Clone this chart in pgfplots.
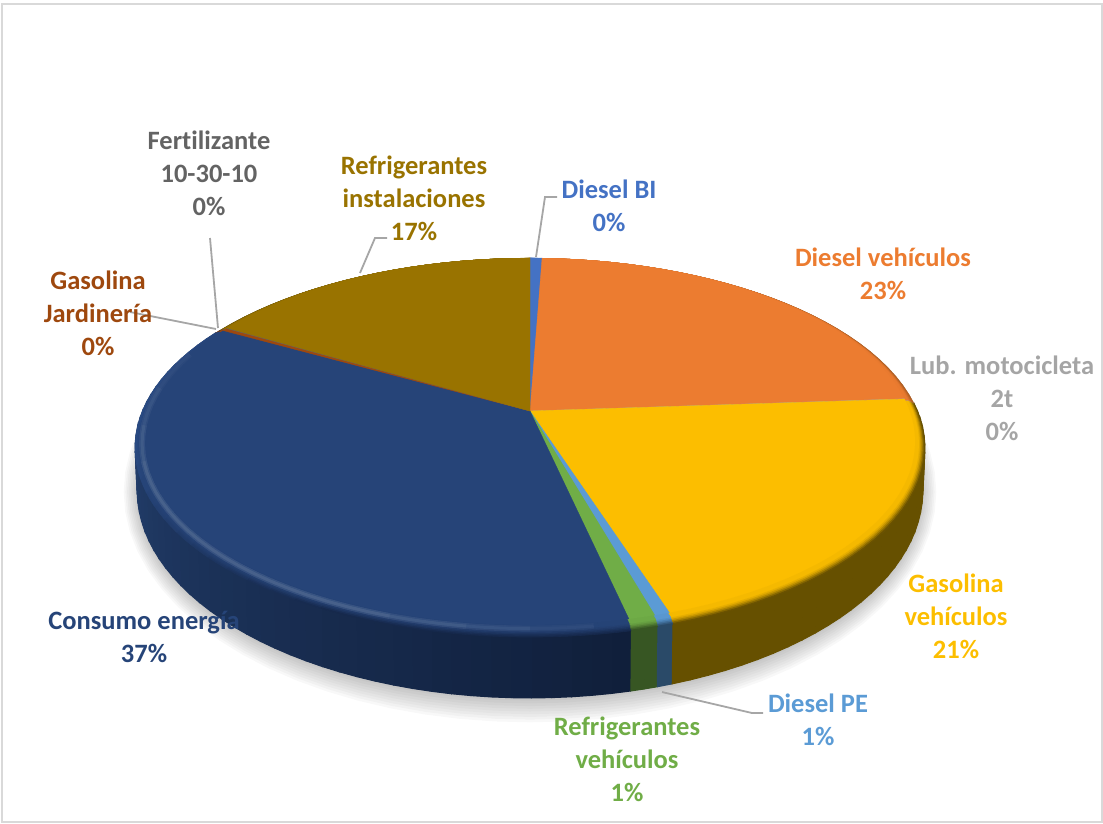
\documentclass[border=0pt]{standalone}
\usepackage{pgfplots}
\pgfplotsset{compat=1.18}
\usepackage{fontspec}
\setmainfont[Ligatures=NoCommon]{Carlito}

% series colours: b = top face, r = bevel edge, s/S = side wall (front / left end)
\definecolor{b1}{HTML}{4472C4}\definecolor{r1}{HTML}{2F5597}
\definecolor{b2}{HTML}{EC7C30}\definecolor{r2}{HTML}{A85A20}
\definecolor{b3}{HTML}{A5A5A5}\definecolor{r3}{HTML}{6E6E6E}
\definecolor{b4}{HTML}{FCBE00}\definecolor{r4}{HTML}{6A5200}
\definecolor{b5}{HTML}{5B9BD5}\definecolor{r5}{HTML}{2A4A68}
\definecolor{b6}{HTML}{70AD47}\definecolor{r6}{HTML}{375623}
\definecolor{b7}{HTML}{264478}\definecolor{r7}{HTML}{16294C}
\definecolor{R7}{HTML}{2A4B84}
\definecolor{b8}{HTML}{9E480E}\definecolor{r8}{HTML}{6A3008}
\definecolor{b9}{HTML}{636363}\definecolor{r9}{HTML}{404040}
\definecolor{b10}{HTML}{997300}\definecolor{r10}{HTML}{665000}
\definecolor{s4}{HTML}{665000}\definecolor{S4}{HTML}{665000}
\definecolor{s5}{HTML}{2A4A68}\definecolor{S5}{HTML}{2A4A68}
\definecolor{s6}{HTML}{375623}\definecolor{S6}{HTML}{375623}
\definecolor{s7}{HTML}{101F3B}\definecolor{S7}{HTML}{233F6D}
\definecolor{leader}{HTML}{A6A6A6}
\definecolor{frame}{HTML}{D9D9D9}

% slice shares in percent; start and end angles, clockwise from the top
\gdef\cum{0}
\foreach \i/\v in {1/0.59, 2/23.31, 3/0.02, 4/21.08, 5/0.55, 6/0.95, 7/36.60, 8/0.25, 9/0.05, 10/16.60}{
  \pgfmathsetmacro\nxt{\cum+\v*3.6}
  \expandafter\xdef\csname t\i\endcsname{\cum}
  \expandafter\xdef\csname e\i\endcsname{\nxt}
  \xdef\cum{\nxt}
}

% point of the disc at angle #1, bevel position #2 (0 flat edge, 1 outer edge)
\newcommand\rimpoint[2]{%
  \pgfmathsetmacro\dnm{1+0.1663*cos(#1)}%
  \pgfmathsetmacro\xrel{379.6*sin(#1)/\dnm}%
  \pgfmathsetmacro\yflat{411-178.4*cos(#1)/\dnm}%
  \pgfmathsetmacro\xm{530+\xrel*(1+#2*0.02597)}%
  \pgfmathsetmacro\ym{\yflat+#2*(6.1+0.0327*(\yflat-441.5))}%
}
% append the arc #1..#2 at bevel position #3 to \coords
\newcommand\arcpts[3]{%
  \pgfmathtruncatemacro\nn{max(1,ceil(abs(#2-#1)/3))}%
  \foreach \jj in {0,...,\nn}{%
    \pgfmathsetmacro\ang{#1+(#2-#1)*\jj/\nn}%
    \rimpoint{\ang}{#3}%
    \xdef\coords{\coords (\xm,\ym)}%
  }%
}
% same arc on the lower edge of the wall
\newcommand\botpts[2]{%
  \pgfmathtruncatemacro\nn{max(1,ceil(abs(#2-#1)/3))}%
  \foreach \jj in {0,...,\nn}{%
    \pgfmathsetmacro\ang{#1+(#2-#1)*\jj/\nn}%
    \rimpoint{\ang}{1}%
    \pgfmathsetmacro\xb{530+(\xm-530)*0.99494}%
    \pgfmathsetmacro\yb{490+(\ym-447.6)*1.0976}%
    \xdef\coords{\coords (\xb,\yb)}%
  }%
}
% one wedge of slice #1 at bevel position #2, edge colour share #3 percent
\newcommand\slicewedge[3]{%
  \gdef\coords{(530,411)}%
  \arcpts{\csname t#1\endcsname}{\csname e#1\endcsname}{#2}%
  \edef\drawit{\noexpand\addplot[forget plot,fill=r#1!#3!b#1,draw=r#1!#3!b#1,line width=0.3pt] coordinates {\coords} -- cycle;}%
  \drawit
}
% bevel layer of the largest slice: its edge turns lighter towards the back
\newcommand\longwedge[2]{%
  \pgfmathsetmacro\ws{\csname t7\endcsname}%
  \pgfmathsetmacro\we{\csname e7\endcsname}%
  \pgfmathtruncatemacro\wn{ceil((\we-\ws)/4)}%
  \foreach \q in {1,...,\wn}{%
    \pgfmathsetmacro\sa{\ws+(\we-\ws)*(\q-1)/\wn}%
    \pgfmathsetmacro\sb{\ws+(\we-\ws)*\q/\wn}%
    \pgfmathtruncatemacro\pc{min(100,max(0,(0.5*(\sa+\sb)-205)*1.8))}%
    \gdef\coords{(530,411)}%
    \arcpts{\sa}{\sb}{#1}%
    \edef\drawit{\noexpand\addplot[forget plot,fill=R7!\pc!r7!#2!b7,draw=R7!\pc!r7!#2!b7,line width=0.6pt] coordinates {\coords} -- cycle;}%
    \drawit
  }%
}
% side wall of slice #1, cut into strips so the tone can run along it
\newcommand\wall[1]{%
  \pgfmathsetmacro\ws{\csname t#1\endcsname}%
  \pgfmathsetmacro\we{\csname e#1\endcsname}%
  \pgfmathtruncatemacro\wn{max(1,ceil((\we-\ws)/2.5))}%
  \foreach \q in {1,...,\wn}{%
    \pgfmathsetmacro\sa{\ws+(\we-\ws)*(\q-1)/\wn}%
    \pgfmathsetmacro\sb{\ws+(\we-\ws)*\q/\wn}%
    \pgfmathtruncatemacro\pc{min(100,max(0,0.5*(\sa+\sb)-168))}%
    \gdef\coords{}%
    \arcpts{\sa}{\sb}{1}%
    \botpts{\sb}{\sa}%
    \edef\drawit{\noexpand\addplot[forget plot,fill=S#1!\pc!s#1,draw=S#1!\pc!s#1,line width=1pt] coordinates {\coords} -- cycle;}%
    \drawit
  }%
}
% soft light along the arc #1..#2
\newcommand\glow[4]{%
  \gdef\coords{}\arcpts{#1}{#2}{#3}%
  \edef\drawit{\noexpand\addplot[forget plot,draw=white,draw opacity=0.022,line width=#4pt] coordinates {\coords};}\drawit
}

\begin{document}
\begin{tikzpicture}
\begin{axis}[
  scale only axis, width=1103pt, height=823pt,
  xmin=0, xmax=1103, ymin=0, ymax=823, y dir=reverse,
  hide axis, clip=false,
]
% page extent
\path (axis cs:0,0) rectangle (axis cs:1103,823);
% chart frame
\addplot[forget plot,draw=frame,line width=2pt] coordinates {(2,4) (1102,4) (1102,822) (2,822)} -- cycle;

% soft ground shadow
\foreach \g in {1,...,9}{%
  \pgfmathsetmacro\grx{391+\g*1.7}%
  \pgfmathsetmacro\gry{206+\g*2.7}%
  \gdef\coords{}%
  \foreach \ga in {0,5,...,355}{%
    \pgfmathsetmacro\gx{530+\grx*cos(\ga)}%
    \pgfmathsetmacro\gy{492+\gry*sin(\ga)}%
    \xdef\coords{\coords (\gx,\gy)}%
  }%
  \edef\drawit{\noexpand\addplot[forget plot,fill=black,fill opacity=0.028,draw=none] coordinates {\coords} -- cycle;}%
  \drawit
}

% side wall
\wall{7}\wall{6}\wall{5}\wall{4}

% bevel, outermost layer first, then the flat face
\foreach \m/\p in {1/100,0.88/80,0.76/55,0.64/32,0.52/15,0.4/5}{%
  \longwedge{\m}{\p}%
  \foreach \s in {1,2,3,4,5,6,8,9,10}{%
    \slicewedge{\s}{\m}{\p}%
  }%
}
\foreach \s in {1,...,10}{\slicewedge{\s}{0}{0}}

% light catching the bevel along the front of the largest slice
\glow{172}{290}{0.3}{6}
\glow{172}{290}{0.3}{3}
\glow{180}{278}{0.3}{6}
\glow{180}{278}{0.3}{3}
\glow{188}{266}{0.3}{6}
\glow{188}{266}{0.3}{3}
\glow{198}{255}{0.3}{6}
\glow{198}{255}{0.3}{3}

% leader lines
\addplot[forget plot,draw=leader,line width=1.8pt] coordinates {(536,257) (545,197) (557,197)};
\addplot[forget plot,draw=leader,line width=1.8pt] coordinates {(360,273) (375,238) (387,238)};
\addplot[forget plot,draw=leader,line width=1.8pt] coordinates {(218,328) (210,238)};
\addplot[forget plot,draw=leader,line width=1.8pt] coordinates {(216,329) (130,312)};
\addplot[forget plot,draw=leader,line width=1.8pt] coordinates {(662,692) (752,713) (763,713)};

% data labels
\tikzset{lab/.style={font=\fontsize{26.5}{33}\selectfont\bfseries,align=center,inner sep=0pt,anchor=center}}
\node[lab,text=b1] at (axis cs:609,206) {Diesel BI\\0\%};
\node[lab,text=b2] at (axis cs:883,274) {Diesel vehículos\\23\%};
\node[lab,text=b3] at (axis cs:1002,398) {Lub. motocicleta\\2t\\0\%};
\node[lab,text=b4] at (axis cs:956,616) {Gasolina\\vehículos\\21\%};
\node[lab,text=b5] at (axis cs:818,720) {Diesel PE\\1\%};
\node[lab,text=b6] at (axis cs:627,759) {Refrigerantes\\vehículos\\1\%};
\node[lab,text=b7] at (axis cs:144,637) {Consumo energía\\37\%};
\node[lab,text=b8] at (axis cs:98,313) {Gasolina\\Jardinería\\0\%};
\node[lab,text=b9] at (axis cs:209,173) {Fertilizante\\10-30-10\\0\%};
\node[lab,text=b10] at (axis cs:414,198) {Refrigerantes\\instalaciones\\17\%};
\end{axis}
\end{tikzpicture}
\end{document}
